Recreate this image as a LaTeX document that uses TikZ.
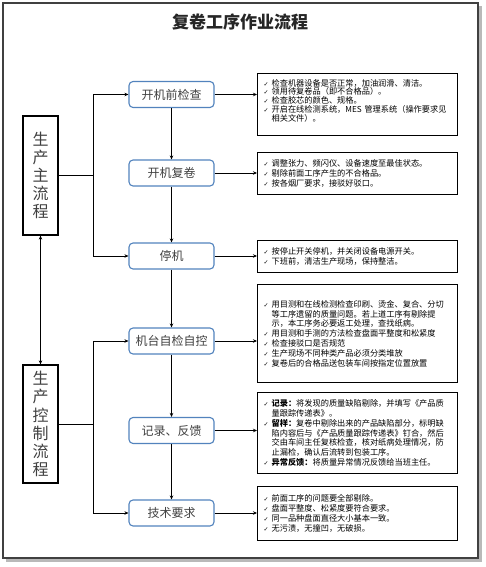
\documentclass[tikz,border=0pt]{standalone}
\usepackage{fontspec}
\setmainfont{Noto Sans CJK SC}
\newfontfamily\djfont{DejaVu Sans}
\usetikzlibrary{arrows.meta,calc}
\definecolor{stepblue}{HTML}{5283BD}
\definecolor{steptext}{HTML}{404040}
\definecolor{framecol}{HTML}{404040}
\tikzset{
 stepbox/.style={draw=stepblue, line width=1.1pt, rounded corners=4pt, fill=white, minimum width=85pt, minimum height=26pt, inner sep=0pt, font=\fontsize{12}{12}\selectfont, text=steptext},
 leftbox/.style={draw=black, line width=1.3pt, minimum width=35pt, inner sep=0pt, align=center, font=\fontsize{16}{18.2}\selectfont, text=steptext},
 notebox/.style={draw=black, line width=1.2pt, anchor=north west, align=left, text width=188pt, inner xsep=6pt, inner ysep=2pt, font=\fontsize{8.2}{9.8}\selectfont},
 conn/.style={line width=0.9pt, -{Stealth[length=4pt,width=3.5pt]}},
 plain/.style={line width=0.9pt},
}
\newcommand{\ck}{\makebox[8pt][l]{\djfont\fontsize{6}{6}\selectfont ✓}}
\newcommand{\ind}{\hspace*{8pt}}
\begin{document}
\begin{tikzpicture}[x=1pt,y=-1pt]
\useasboundingbox (0,0) rectangle (486,567);
% frame with shadow
\fill[gray!55] (6,6) rectangle (481.5,561.5);
\draw[framecol, line width=1.2pt, fill=white] (3,3) rectangle (478,558);
% title
\node[font=\fontsize{17}{17}\selectfont\bfseries, text=black!85] (title) at (240,22) {复卷工序作业流程};
% left boxes
\node[leftbox, minimum height=119pt] (L1) at (40.5,175.5) {生\\产\\主\\流\\程};
\node[leftbox, minimum height=118pt] (L2) at (40.5,424) {生\\产\\控\\制\\流\\程};
% step boxes
\node[stepbox] (S1) at (171.5,94.5) {开机前检查};
\node[stepbox] (S2) at (171.5,173) {开机复卷};
\node[stepbox] (S3) at (171.5,256) {停机};
\node[stepbox] (S4) at (171.5,341) {机台自检自控};
\node[stepbox] (S5) at (171.5,430.5) {记录、反馈};
\node[stepbox] (S6) at (171.5,513) {技术要求};
% note boxes
\node[notebox, minimum height=62pt, font=\fontsize{8.2}{8.8}\selectfont] (R1) at (257,73) {\ck 检查机器设备是否正常，加油润滑、清洁。\\
\ck 领用待复卷品（即不合格品）。\\
\ck 检查胶芯的颜色、规格。\\
\ck 开启在线检测系统，MES 管理系统（操作要求见\\
\ind 相关文件）。\\ \mbox{}};
\node[notebox, minimum height=42pt] (R2) at (257,152) {\ck 调整张力、频闪仪、设备速度至最佳状态。\\
\ck 剔除前面工序产生的不合格品。\\
\ck 按各烟厂要求，接驳好驳口。};
\node[notebox, minimum height=32pt] (R3) at (257,240) {\ck 按停止开关停机，并关闭设备电源开关。\\
\ck 下班前，清洁生产现场，保持整洁。};
\node[notebox, minimum height=98pt] (R4) at (257,284) {\ck 用目测和在线检测检查印刷、烫金、复合、分切\\
\ind 等工序遗留的质量问题。若上道工序有剔除提\\
\ind 示，本工序务必要返工处理，查找纸病。\\
\ck 用目测和手测的方法检查盘面平整度和松紧度\\
\ck 检查接驳口是否规范\\
\ck 生产现场不同种类产品必须分类堆放\\
\ck 复卷后的合格品送包装车间按指定位置放置};
\node[notebox, minimum height=81pt] (R5) at (257,392) {\ck \textbf{记录：}将发现的质量缺陷剔除，并填写《产品质\\
\ind 量跟踪传递表》。\\
\ck \textbf{留样：}复卷中剔除出来的产品缺陷部分，标明缺\\
\ind 陷内容后与《产品质量跟踪传递表》钉合，然后\\
\ind 交由车间主任复核检查，核对纸病处理情况，防\\
\ind 止漏检，确认后流转到包装工序。\\
\ck \textbf{异常反馈：}将质量异常情况反馈给当班主任。};
\node[notebox, minimum height=54pt] (R6) at (257,486) {\ck 前面工序的问题要全部剔除。\\
\ck 盘面平整度、松紧度要符合要求。\\
\ck 同一品种盘面直径大小基本一致。\\
\ck 无污渍，无撞凹，无破损。};
% junction coordinates
\coordinate (J1) at (93,175.5);
\coordinate (J2) at (93,424);
% left connectors
\draw[plain] (L1.east) -- (J1);
\draw[conn] (J1) |- (S1.west);
\draw[conn] (J1) |- (S3.west);
\draw[plain] (L2.east) -- (J2);
\draw[conn] (J2) |- (S4.west);
\draw[conn] (J2) |- (S6.west);
\draw[line width=0.9pt, {Stealth[length=4pt,width=3.5pt]}-{Stealth[length=4pt,width=3.5pt]}] (L1.south) -- (L2.north);
% vertical chain
\draw[conn] (S1.south) -- (S2.north);
\draw[conn] (S2.south) -- (S3.north);
\draw[conn] (S3.south) -- (S4.north);
\draw[conn] (S4.south) -- (S5.north);
\draw[conn] (S5.south) -- (S6.north);
% to notes
\draw[conn] (S1.east) -- (S1.east -| R1.west);
\draw[conn] (S2.east) -- (S2.east -| R2.west);
\draw[conn] (S3.east) -- (S3.east -| R3.west);
\draw[conn] (S4.east) -- (S4.east -| R4.west);
\draw[conn] (S5.east) -- (S5.east -| R5.west);
\draw[conn] (S6.east) -- (S6.east -| R6.west);
\end{tikzpicture}
\end{document}
